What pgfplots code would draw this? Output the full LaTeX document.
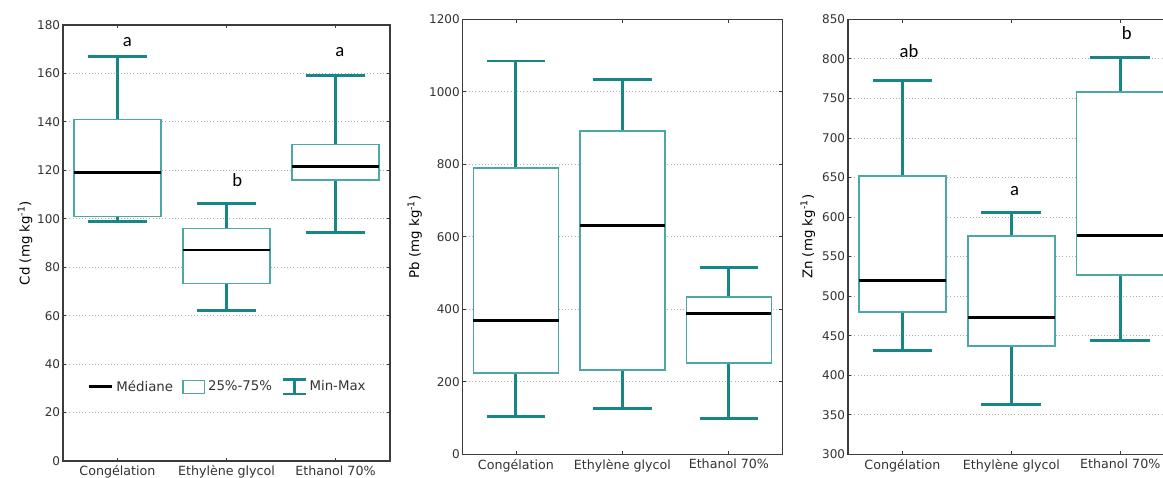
\documentclass[border=0pt]{standalone}
\usepackage{fontspec}
\setmainfont{DejaVu Sans}
\newfontfamily\letterfont{Carlito}
\usepackage{pgfplots}
\pgfplotsset{compat=1.18}
\usepgfplotslibrary{statistics}
\definecolor{whisk}{HTML}{178686}
\definecolor{boxedge}{HTML}{4CA7A7}
\definecolor{axgray}{HTML}{3C3C3C}
\definecolor{txtgray}{HTML}{333333}
\definecolor{gridgray}{HTML}{B0B0B0}
\pgfplotsset{
  bxp/.style={
    scale only axis,
    xmin=0.5, xmax=3.5,
    xtick={1,2,3},
    xticklabels={Congélation, Ethylène glycol, Ethanol 70\%},
    axis line style={draw=axgray, line width=0.8pt},
    tick style={draw=axgray, line width=0.6pt},
    tick align=inside,
    major tick length=2.5pt,
    ymajorgrids,
    grid style={gridgray, dotted, line width=0.6pt},
    /pgf/number format/assume math mode=true,
    /pgf/number format/1000 sep={},
    yticklabel style={font=\fontsize{9}{10}\selectfont, text=txtgray, inner sep=2pt},
    xticklabel style={font=\fontsize{9.5}{11}\selectfont, text=txtgray},
    label style={font=\fontsize{13}{15}\selectfont, text=txtgray},
    boxplot/draw direction=y,
    boxplot/box extend=0.8,
    boxplot/whisker extend=0.55,
    boxplot/every box/.style={draw=boxedge, line width=1.1pt, fill=white},
    boxplot/every whisker/.style={draw=whisk, line width=2.2pt},
    boxplot/every median/.style={draw=black, line width=2.2pt},
  },
}
\tikzset{grp/.style={font=\letterfont\fontsize{14}{16}\selectfont, anchor=base, inner sep=0pt}}
\begin{document}
\begin{tikzpicture}
% Cd
\begin{axis}[bxp,
  at={(47.25pt,12.75pt)}, anchor=south west,
  width=245.25pt, height=327pt,
  ymin=0, ymax=180, ytick={0,20,...,180},
  every axis y label/.style={at={(rel axis cs:-0.116,0.5)}, rotate=90, anchor=center},
  ylabel={Cd (mg kg\textsuperscript{-1})},
  legend columns=3,
  legend style={at={(0.505,0.17)}, anchor=center, draw=none, fill=none,
    font=\fontsize{10}{12}\selectfont, text=txtgray,
    /tikz/every even column/.append style={column sep=5pt}},
]
\addplot[boxplot prepared={draw position=1, lower whisker=98.7, lower quartile=101,
  median=119, upper quartile=141, upper whisker=167}, forget plot] coordinates {};
\addplot[boxplot prepared={draw position=2, lower whisker=62.3, lower quartile=73.2,
  median=87.1, upper quartile=96, upper whisker=106.4}, forget plot] coordinates {};
\addplot[boxplot prepared={draw position=3, lower whisker=94.3, lower quartile=116.1,
  median=121.5, upper quartile=130.7, upper whisker=159.2}, forget plot] coordinates {};
\addlegendimage{black, line width=2.2pt}
\addlegendentry{Médiane}
\addlegendimage{legend image code/.code={\draw[boxedge, line width=1pt] (0.03cm,-0.17cm) rectangle (0.6cm,0.17cm);}}
\addlegendentry{25\%-75\%}
\addlegendimage{legend image code/.code={\draw[whisk, line width=2pt] (0cm,0.19cm) -- (0.6cm,0.19cm) (0.3cm,0.19cm) -- (0.3cm,-0.19cm) (0cm,-0.19cm) -- (0.6cm,-0.19cm);}}
\addlegendentry{Min-Max}
\node[grp] at (axis cs:1.09,171.3) {a};
\node[grp] at (axis cs:2.10,113.5) {b};
\node[grp] at (axis cs:3.04,166.9) {a};
\end{axis}
% Pb
\begin{axis}[bxp,
  at={(347pt,17.8pt)}, anchor=south west,
  width=239.6pt, height=326.2pt,
  ymin=0, ymax=1200, ytick={0,200,...,1200},
  every axis y label/.style={at={(rel axis cs:-0.15,0.5)}, rotate=90, anchor=center},
  ylabel={Pb (mg kg\textsuperscript{-1})},
]
\addplot[boxplot prepared={draw position=1, lower whisker=105, lower quartile=224,
  median=370, upper quartile=790, upper whisker=1085}, forget plot] coordinates {};
\addplot[boxplot prepared={draw position=2, lower whisker=125, lower quartile=232,
  median=630, upper quartile=892, upper whisker=1035}, forget plot] coordinates {};
\addplot[boxplot prepared={draw position=3, lower whisker=98, lower quartile=252,
  median=388, upper quartile=434, upper whisker=516}, forget plot] coordinates {};
\end{axis}
% Zn
\begin{axis}[bxp,
  at={(636pt,17.8pt)}, anchor=south west,
  width=245pt, height=326.2pt,
  ymin=300, ymax=850, ytick={300,350,...,850},
  every axis y label/.style={at={(rel axis cs:-0.123,0.5)}, rotate=90, anchor=center},
  ylabel={Zn (mg kg\textsuperscript{-1})},
]
\addplot[boxplot prepared={draw position=1, lower whisker=431.4, lower quartile=480,
  median=519.4, upper quartile=651.6, upper whisker=773}, forget plot] coordinates {};
\addplot[boxplot prepared={draw position=2, lower whisker=363, lower quartile=437,
  median=473, upper quartile=575.8, upper whisker=605.7}, forget plot] coordinates {};
\addplot[boxplot prepared={draw position=3, lower whisker=444, lower quartile=526.6,
  median=576.7, upper quartile=758, upper whisker=802}, forget plot] coordinates {};
\node[grp] at (axis cs:1.06,801.6) {ab};
\node[grp] at (axis cs:2.03,626.8) {a};
\node[grp] at (axis cs:3.06,824.7) {b};
\end{axis}
\pgfresetboundingbox
\useasboundingbox (0,0) rectangle (872.25pt,358.5pt);
\end{tikzpicture}
\end{document}
